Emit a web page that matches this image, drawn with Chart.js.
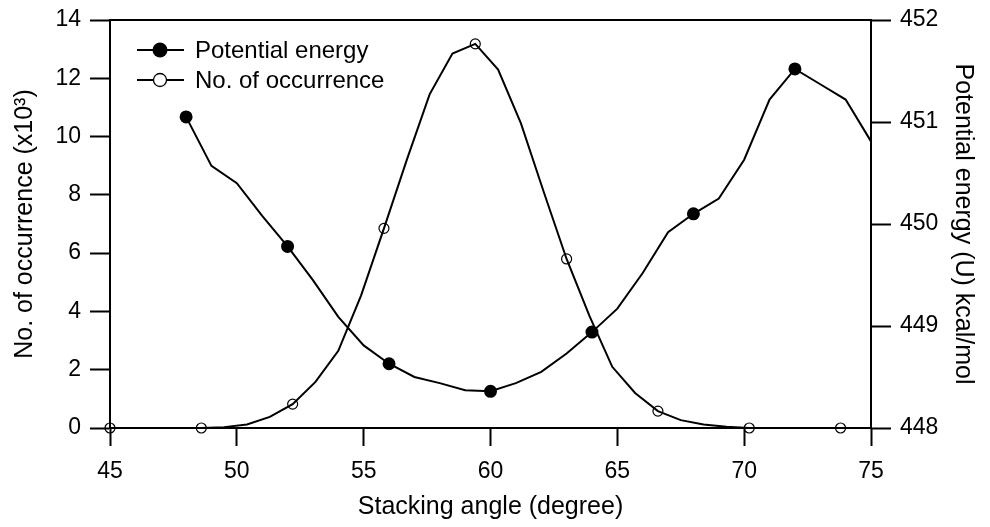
<!DOCTYPE html>
<html>
<head>
<meta charset="utf-8">
<title>Stacking angle</title>
<script src="https://cdn.jsdelivr.net/npm/chart.js@4.4.1/dist/chart.umd.min.js"></script>
<style>
  html, body { margin: 0; padding: 0; background: #fff; }
  #wrap { width: 990px; height: 527px; }
</style>
</head>
<body>
<div id="wrap"><canvas id="chart" width="990" height="527"></canvas></div>
<script>
// No. of occurrence (x10^3) vs stacking angle
const occAngle = [45.0, 45.9, 46.8, 47.7, 48.6, 49.5, 50.4, 51.3, 52.2, 53.1, 54.0,
    54.9, 55.8, 56.7, 57.6, 58.5, 59.4, 60.3, 61.2, 62.1, 63.0, 63.9, 64.8,
    65.7, 66.6, 67.5, 68.4, 69.3, 70.2, 71.1, 72.0, 72.9, 73.8];
const occCount = [0, 0, 0, 0, 0, 0.03, 0.12, 0.38, 0.82, 1.58, 2.65,
    4.55, 6.85, 9.2, 11.45, 12.85, 13.18, 12.3, 10.45, 8.1, 5.8, 3.85, 2.1,
    1.2, 0.58, 0.27, 0.12, 0.04, 0, 0, 0, 0, 0];

// Potential energy (kcal/mol) vs stacking angle
const peAngle = [48, 49, 50, 51, 52, 53, 54, 55, 56, 57, 58, 59, 60, 61,
    62, 63, 64, 65, 66, 67, 68, 69, 70, 71, 72, 73, 74, 75];
const peEnergy = [451.05, 450.57, 450.40, 450.08, 449.78, 449.45, 449.09, 448.81,
    448.63, 448.50, 448.44, 448.37, 448.36, 448.44, 448.55, 448.73, 448.94,
    449.17, 449.52, 449.92, 450.10, 450.25, 450.63, 451.22, 451.52, 451.37,
    451.22, 450.81];

const angleTicks = [45, 50, 55, 60, 65, 70, 75];
const occTicks = [0, 2, 4, 6, 8, 10, 12, 14];
const peTicks = [448, 449, 450, 451, 452];

Chart.defaults.font.family = "'Liberation Sans', Arial, sans-serif";
Chart.defaults.color = '#000';

const toPoints = (xs, ys) => xs.map((x, i) => ({ x: x, y: ys[i] }));

// Top border of the plot box
const frame = {
    id: 'frame',
    afterDraw(chart) {
        const { ctx, chartArea } = chart;
        ctx.save();
        ctx.strokeStyle = '#000';
        ctx.lineWidth = 2;
        ctx.beginPath();
        ctx.moveTo(chartArea.left, chartArea.top);
        ctx.lineTo(chartArea.right, chartArea.top);
        ctx.stroke();
        ctx.restore();
    }
};

// Legend drawn inside the plot, top left
const insideLegend = {
    id: 'insideLegend',
    afterDraw(chart) {
        const { ctx, chartArea } = chart;
        const x0 = chartArea.left + 27;
        let y = chartArea.top + 30;
        ctx.save();
        chart.data.datasets.forEach(ds => {
            ctx.strokeStyle = '#000';
            ctx.lineWidth = 2;
            ctx.beginPath();
            ctx.moveTo(x0, y);
            ctx.lineTo(x0 + 47, y);
            ctx.stroke();
            ctx.beginPath();
            ctx.arc(x0 + 23, y, ds.legendRadius, 0, Math.PI * 2);
            if (ds.legendFilled) {
                ctx.fillStyle = '#000';
                ctx.fill();
            } else {
                ctx.fillStyle = '#fff';
                ctx.fill();
                ctx.lineWidth = 1.3;
                ctx.stroke();
            }
            ctx.fillStyle = '#000';
            ctx.font = "24px 'Liberation Sans', Arial, sans-serif";
            ctx.textBaseline = 'middle';
            ctx.fillText(ds.label, x0 + 58, y + 1);
            y += 30;
        });
        ctx.restore();
    }
};

const axisGrid = (len) => ({
    drawOnChartArea: false,
    drawTicks: true,
    tickLength: len,
    tickWidth: 2,
    tickColor: '#000'
});

// fixed axis sizes so the plot box sits where it does in the figure
const fitY = (w) => (s) => { s.width = w; s.paddingTop = 0; s.paddingBottom = 0; };

const ctx = document.getElementById('chart').getContext('2d');
const chart = new Chart(ctx, {
    type: 'line',
    data: {
        datasets: [
            {
                label: 'Potential energy',
                data: toPoints(peAngle, peEnergy),
                yAxisID: 'y2',
                borderColor: '#000',
                borderWidth: 2,
                tension: 0,
                pointRadius: c => ((peAngle[c.index] - 48) % 4 === 0 ? 5.5 : 0),
                pointBackgroundColor: '#000',
                pointBorderColor: '#000',
                clip: false,
                legendFilled: true,
                legendRadius: 7.5
            },
            {
                label: 'No. of occurrence',
                data: toPoints(occAngle, occCount),
                yAxisID: 'y',
                borderColor: '#000',
                borderWidth: 2,
                tension: 0,
                pointRadius: c => (c.index % 4 === 0 ? 5 : 0),
                pointBackgroundColor: 'rgba(0,0,0,0)',
                pointBorderColor: '#000',
                pointBorderWidth: 1.2,
                clip: false,
                legendFilled: false,
                legendRadius: 6.5
            }
        ]
    },
    options: {
        responsive: false,
        animation: false,
        layout: { padding: { top: 20, left: 0, right: 0, bottom: 0 } },
        plugins: {
            legend: { display: false },
            tooltip: { enabled: false }
        },
        scales: {
            x: {
                type: 'linear',
                min: 45,
                max: 75,
                afterFit: s => { s.height = 99; s.paddingLeft = 0; s.paddingRight = 0; },
                afterBuildTicks: s => { s.ticks = angleTicks.map(v => ({ value: v })); },
                grid: axisGrid(18),
                border: { color: '#000', width: 2 },
                ticks: { font: { size: 23 }, padding: 12, maxRotation: 0 },
                title: {
                    display: true,
                    text: 'Stacking angle (degree)',
                    font: { size: 25 },
                    padding: { top: 0, bottom: 5 }
                }
            },
            y: {
                position: 'left',
                min: 0,
                max: 14,
                afterFit: fitY(110),
                afterBuildTicks: s => { s.ticks = occTicks.map(v => ({ value: v })); },
                grid: axisGrid(20),
                border: { color: '#000', width: 2 },
                ticks: { font: { size: 23 }, padding: 9 },
                title: {
                    display: true,
                    text: 'No. of occurrence (x10\u00B3)',
                    font: { size: 25 },
                    padding: { top: 10, bottom: 0 }
                }
            },
            y2: {
                position: 'right',
                min: 448,
                max: 452,
                afterFit: fitY(119),
                afterBuildTicks: s => { s.ticks = peTicks.map(v => ({ value: v })); },
                grid: axisGrid(20),
                border: { color: '#000', width: 2 },
                ticks: { font: { size: 23 }, padding: 9 },
                title: {
                    display: true,
                    text: 'Potential energy (U) kcal/mol',
                    font: { size: 25 },
                    padding: { top: 12, bottom: 0 }
                }
            }
        }
    },
    plugins: [frame, insideLegend]
});
</script>
</body>
</html>
